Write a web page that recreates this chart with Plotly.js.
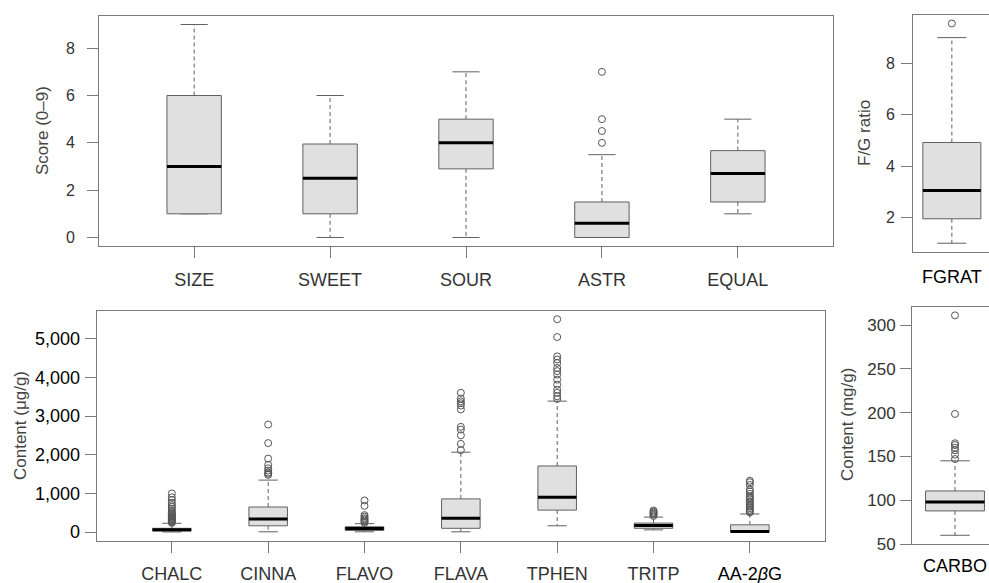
<!DOCTYPE html>
<html>
<head>
<meta charset="utf-8">
<script src="https://cdn.plot.ly/plotly-3.0.1.min.js"></script>
<style>
html,body{margin:0;padding:0;overflow:hidden;background:#fff;}
#wrap{width:989px;height:583px;overflow:hidden;position:relative;}
#chart{width:1000px;height:583px;}
</style>
</head>
<body>
<div id="wrap"><div id="chart"></div></div>
<script>
// ---- Data ----
const topCats = ['SIZE', 'SWEET', 'SOUR', 'ASTR', 'EQUAL'];
const topLow  = [1, 0, 0, 0, 1];
const topQ1   = [1, 1, 2.9, 0, 1.5];
const topMed  = [3, 2.5, 4, 0.6, 2.7];
const topQ3   = [6, 3.95, 5, 1.5, 3.67];
const topHigh = [9, 6, 7, 3.5, 5];
const topOut  = [[], [], [], [4, 4.5, 5, 7], []];

const fgCats = ['FGRAT'];
const fgLow  = [1];
const fgQ1   = [1.95];
const fgMed  = [3.05];
const fgQ3   = [4.92];
const fgHigh = [9.0];
const fgOut  = [[9.55]];

const botCats = ['CHALC', 'CINNA', 'FLAVO', 'FLAVA', 'TPHEN', 'TRITP', 'AA-2<i>β</i>G'];
const botLow  = [5, 10, 10, 10, 165, 60, 0];
const botQ1   = [30, 165, 45, 100, 570, 100, 0];
const botMed  = [60, 340, 95, 360, 905, 175, 20];
const botQ3   = [100, 650, 140, 860, 1710, 235, 190];
const botHigh = [230, 1345, 220, 2065, 3385, 390, 470];
const botOut  = [
  [240, 260, 280, 300, 320, 340, 360, 380, 400, 420, 450, 480, 510, 550, 600, 650, 700, 760, 830, 900, 1000],
  [1480, 1510, 1540, 1590, 1650, 1740, 1900, 2300, 2780],
  [240, 270, 300, 330, 360, 400, 440, 680, 820],
  [2120, 2280, 2500, 2650, 2720, 3170, 3270, 3330, 3380, 3450, 3600],
  [3440, 3510, 3600, 3680, 3810, 3940, 4070, 4160, 4240, 4370, 4460, 4540, 5040, 5500],
  [420, 450, 480, 500, 530, 560],
  [510, 540, 580, 620, 660, 710, 750, 790, 850, 880, 920, 990, 1050, 1100, 1220, 1290, 1330]
];

const carCats = ['CARBO'];
const carLow  = [60];
const carQ1   = [87.8];
const carMed  = [98];
const carQ3   = [110.6];
const carHigh = [145];
const carOut  = [[147, 152, 157, 160, 163, 165, 198.5, 311]];

const topTicks = [0, 2, 4, 6, 8];
const fgTicks = [2, 4, 6, 8];
const botTicks = [0, 1000, 2000, 3000, 4000, 5000];
const botTickText = ['0', '1,000', '2,000', '3,000', '4,000', '5,000'];
const carTicks = [50, 100, 150, 200, 250, 300];

// ---- Style ----
const BOX_FILL = '#e0e0e0';
const BOX_LINE = '#606060';
const FRAME = '#7a7a7a';
const FONT = 'Liberation Sans, Arial, sans-serif';

const traces = [];
function addBoxes(xa, ya, low, q1, med, q3, high, outs, bw) {
  for (let i = 0; i < q1.length; i++) {
    const c = i + 1;
    const hw = bw / 2, cw = bw / 4;
    traces.push({x: [c, c, null, c, c], y: [q3[i], high[i], null, q1[i], low[i]], xaxis: xa, yaxis: ya,
      mode: 'lines', line: {color: BOX_LINE, width: 1, dash: '4px,3px'}, hoverinfo: 'skip', showlegend: false});
    traces.push({x: [c - cw, c + cw, null, c - cw, c + cw], y: [high[i], high[i], null, low[i], low[i]], xaxis: xa, yaxis: ya,
      mode: 'lines', line: {color: BOX_LINE, width: 1}, hoverinfo: 'skip', showlegend: false});
    traces.push({x: [c - hw, c + hw, c + hw, c - hw, c - hw], y: [q1[i], q1[i], q3[i], q3[i], q1[i]], xaxis: xa, yaxis: ya,
      mode: 'lines', fill: 'toself', fillcolor: BOX_FILL, line: {color: BOX_LINE, width: 1}, hoverinfo: 'skip', showlegend: false});
    traces.push({x: [c - hw, c + hw], y: [med[i], med[i]], xaxis: xa, yaxis: ya,
      mode: 'lines', line: {color: '#000', width: 3}, hoverinfo: 'skip', showlegend: false});
    if (outs[i].length) {
      traces.push({x: outs[i].map(() => c), y: outs[i], xaxis: xa, yaxis: ya, mode: 'markers',
        marker: {symbol: 'circle-open', size: 7, color: '#555', line: {width: 1, color: '#555'}},
        hoverinfo: 'skip', showlegend: false});
    }
  }
}
addBoxes('x5', 'y5', topLow, topQ1, topMed, topQ3, topHigh, topOut, 0.4);
addBoxes('x2', 'y2', fgLow, fgQ1, fgMed, fgQ3, fgHigh, fgOut, 0.8);
addBoxes('x3', 'y3', botLow, botQ1, botMed, botQ3, botHigh, botOut, 0.4);
addBoxes('x4', 'y4', carLow, carQ1, carMed, carQ3, carHigh, carOut, 0.74);

const W = 1000, H = 583;
function px(a, b) { return [a / W, b / W]; }
function py(top, bottom) { return [1 - bottom / H, 1 - top / H]; }

function xax(dom, cats, anchor, color, size, withTicks, standoff) {
  return {domain: dom, anchor: anchor, range: [0, 0], tickmode: 'array',
    tickvals: cats.map((_, i) => i + 1), ticktext: cats,
    showline: true, mirror: true, linecolor: FRAME, linewidth: 1,
    ticks: withTicks ? 'outside' : '', ticklen: 11, tickcolor: FRAME, tickwidth: 1,
    showgrid: false, zeroline: false, ticklabelstandoff: standoff,
    tickfont: {family: FONT, size: size, color: color}, fixedrange: true};
}
function yax(dom, range, vals, text, anchor, color, size, standoff, showLabels) {
  return {domain: dom, anchor: anchor, range: range, tickmode: 'array',
    tickvals: vals, ticktext: text, showticklabels: showLabels,
    showline: true, mirror: true, linecolor: FRAME, linewidth: 1,
    ticks: 'outside', ticklen: 11, tickcolor: FRAME, tickwidth: 1,
    showgrid: false, zeroline: false, ticklabelstandoff: standoff,
    tickfont: {family: FONT, size: size, color: color}, fixedrange: true};
}

const xa5 = xax(px(99, 833), topCats, 'y5', '#333', 18, true, 6); xa5.range = [0.3, 5.7];
const ya5 = yax(py(16, 246), [-0.36, 9.36], topTicks, topTicks.map(v => String(v)), 'x5', '#333', 16, 0, false);
const xa2 = xax(px(912.7, 991), fgCats, 'y2', '#000', 18, false, 8); xa2.range = [0.46, 1.54];
const ya2 = yax(py(14.7, 252), [0.658, 9.892], fgTicks, fgTicks.map(v => String(v)), 'x2', '#333', 16, 0, false);
const xa3 = xax(px(96.7, 825), botCats.map((c, i) => i === 6 ? '<span style="color:#000">' + c + '</span>' : c), 'y3', '#333', 18, true, 6);
xa3.range = [0.22, 7.78];
const ya3 = yax(py(310.7, 540.7), [-220, 5720], botTicks, botTickText, 'x3', '#000', 18, 1, true);
const xa4 = xax(px(912, 998), carCats, 'y4', '#000', 18, false, 5); xa4.range = [0.46, 1.54];
const ya4 = yax(py(306.7, 544.3), [49.7, 320.9], carTicks, carTicks.map(v => String(v)), 'x4', '#333', 17, 1, true);

function title(text, xpx, ypx) {
  return {text: text, x: xpx / W, y: 1 - ypx / H, xref: 'paper', yref: 'paper', showarrow: false,
    textangle: -90, xanchor: 'center', yanchor: 'middle', font: {family: FONT, size: 17, color: '#444'}};
}
// y tick labels for the top row, placed on the axis scale
function tickLabels(vals, yref, rightPx) {
  return vals.map(v => ({text: String(v), x: rightPx / W, y: v, xref: 'paper', yref: yref, showarrow: false,
    xanchor: 'right', yanchor: 'middle', font: {family: FONT, size: 16, color: '#333'}}));
}

const layout = {
  width: W, height: H, margin: {l: 0, r: 0, t: 0, b: 0},
  paper_bgcolor: '#fff', plot_bgcolor: '#fff', showlegend: false,
  xaxis5: xa5, yaxis5: ya5, xaxis2: xa2, yaxis2: ya2, xaxis3: xa3, yaxis3: ya3, xaxis4: xa4, yaxis4: ya4,
  annotations: [
    title('Score (0–9)', 42, 131),
    title('F/G ratio', 864, 133),
    title('Content (μg/g)', 20, 426),
    title('Content (mg/g)', 847, 425)
  ].concat(tickLabels(topTicks, 'y5', 77), tickLabels(fgTicks, 'y2', 897))
};

Plotly.newPlot('chart', traces, layout, {displayModeBar: false, staticPlot: true});
</script>
</body>
</html>
